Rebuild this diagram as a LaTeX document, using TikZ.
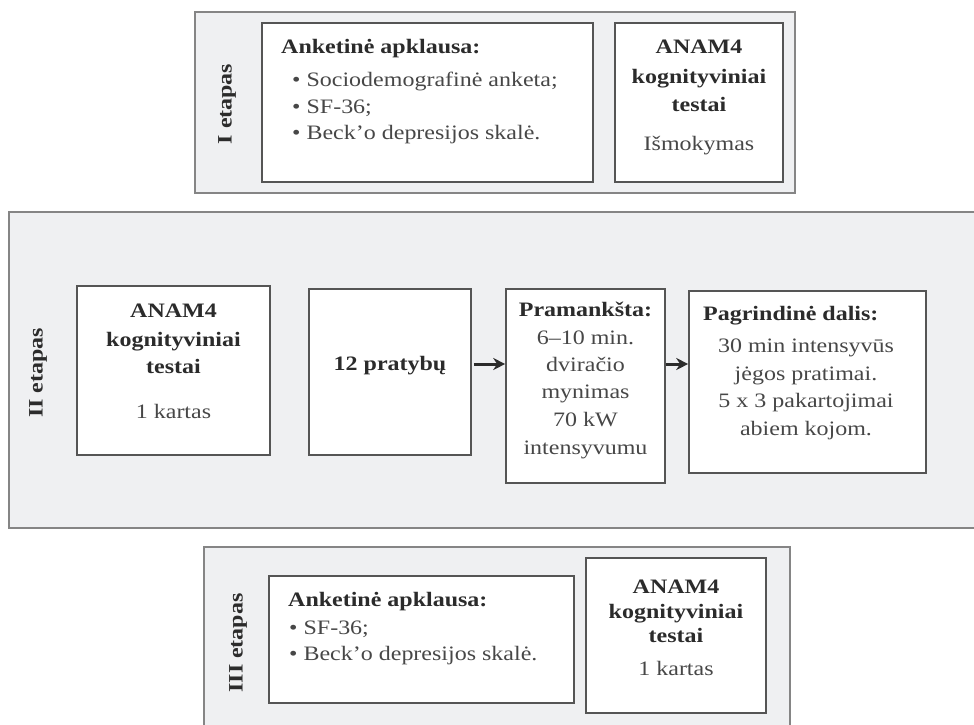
\documentclass[tikz,border=0pt]{standalone}
\usepackage{fontspec}
\setmainfont[FakeStretch=1.17]{Liberation Serif}
\usetikzlibrary{arrows.meta}
\definecolor{panelfill}{HTML}{EFF0F2}
\definecolor{panelline}{HTML}{858585}
\definecolor{boxline}{HTML}{555555}
\definecolor{boldtext}{HTML}{2B2B2B}
\definecolor{plaintext}{HTML}{474747}
\begin{document}
\begin{tikzpicture}[x=1pt,y=-1pt,
  panel/.style={draw=panelline, fill=panelfill, line width=1.8pt, inner sep=0pt, rectangle},
  box/.style={draw=boxline, fill=white, line width=1.6pt, inner sep=0pt, rectangle},
  tx/.style={font=\fontsize{20.5}{26}\selectfont, text=plaintext, inner sep=0pt, anchor=base},
  tb/.style={tx, font=\fontsize{20.5}{26}\selectfont\bfseries, text=boldtext},
  etap/.style={tb, rotate=90, anchor=center},
  arr/.style={-{Stealth[length=12pt,width=12pt]}, line width=3pt, draw=boldtext}]
\useasboundingbox (0,0) rectangle (974,725);

% ---------- Stage I ----------
\node[panel, minimum width=600pt, minimum height=181pt] (p1) at (495,102.5) {};
\node[box, minimum width=331pt, minimum height=159pt] (p1a) at (427.5,102.5) {};
\node[box, minimum width=168pt, minimum height=159pt] (p1b) at (699,102.5) {};
\node[etap] (l1) at (227,104) {I etapas};
\node[tb, anchor=base west] (p1a0) at (281,53) {Anketinė apklausa:};
\node[tx, anchor=base west] (p1a1) at (292,86) {• Sociodemografinė anketa;};
\node[tx, anchor=base west] (p1a2) at (292,113) {• SF-36;};
\node[tx, anchor=base west] (p1a3) at (292,139) {• Beck’o depresijos skalė.};
\node[tb] (p1b0) at (699,54) {ANAM4};
\node[tb] (p1b1) at (699,84) {kognityviniai};
\node[tb] (p1b2) at (699,111) {testai};
\node[tx] (p1b3) at (699,150) {Išmokymas};

% ---------- Stage II ----------
\node[panel, minimum width=990pt, minimum height=316pt] (p2) at (504,370) {};
\node[etap] (l2) at (38,373) {II etapas};
\node[box, minimum width=193pt, minimum height=169pt] (p2a) at (173.5,370.5) {};
\node[box, minimum width=162pt, minimum height=166pt] (p2b) at (390,372) {};
\node[box, minimum width=159pt, minimum height=194pt] (p2c) at (585.5,386) {};
\node[box, minimum width=237pt, minimum height=182pt] (p2d) at (807.5,382) {};
\node[tb] (p2a0) at (173.5,317) {ANAM4};
\node[tb] (p2a1) at (173.5,346) {kognityviniai};
\node[tb] (p2a2) at (173.5,373) {testai};
\node[tx] (p2a3) at (173.5,418) {1 kartas};
\node[tb] (p2b0) at (390,370) {12 pratybų};
\node[tb] (p2c0) at (585.5,316) {Pramankšta:};
\node[tx] (p2c1) at (585.5,344) {6–10 min.};
\node[tx] (p2c2) at (585.5,371) {dviračio};
\node[tx] (p2c3) at (585.5,398) {mynimas};
\node[tx] (p2c4) at (585.5,426) {70 kW};
\node[tx] (p2c5) at (585.5,454) {intensyvumu};
\node[tb, anchor=base west] (p2d0) at (703,320) {Pagrindinė dalis:};
\node[tx] (p2d1) at (806,352) {30 min intensyvūs};
\node[tx] (p2d2) at (806,380) {jėgos pratimai.};
\node[tx] (p2d3) at (806,407) {5 x 3 pakartojimai};
\node[tx] (p2d4) at (806,435) {abiem kojom.};
\coordinate (arrowrow) at (0,364);
\draw[arr] ([xshift=2pt]p2b.east |- arrowrow) -- (p2c.west |- arrowrow);
\draw[arr] (p2c.east |- arrowrow) -- (p2d.west |- arrowrow);

% ---------- Stage III ----------
\node[panel, minimum width=586pt, minimum height=193pt] (p3) at (497,643.5) {};
\node[box, minimum width=305pt, minimum height=127pt] (p3a) at (421.5,639.5) {};
\node[box, minimum width=180pt, minimum height=155pt] (p3b) at (676,635.5) {};
\node[etap] (l3) at (238,643) {III etapas};
\node[tb, anchor=base west] (p3a0) at (288,606) {Anketinė apklausa:};
\node[tx, anchor=base west] (p3a1) at (289,634) {• SF-36;};
\node[tx, anchor=base west] (p3a2) at (289,660) {• Beck’o depresijos skalė.};
\node[tb] (p3b0) at (676,593) {ANAM4};
\node[tb] (p3b1) at (676,618) {kognityviniai};
\node[tb] (p3b2) at (676,642) {testai};
\node[tx] (p3b3) at (676,675) {1 kartas};
\end{tikzpicture}
\end{document}
